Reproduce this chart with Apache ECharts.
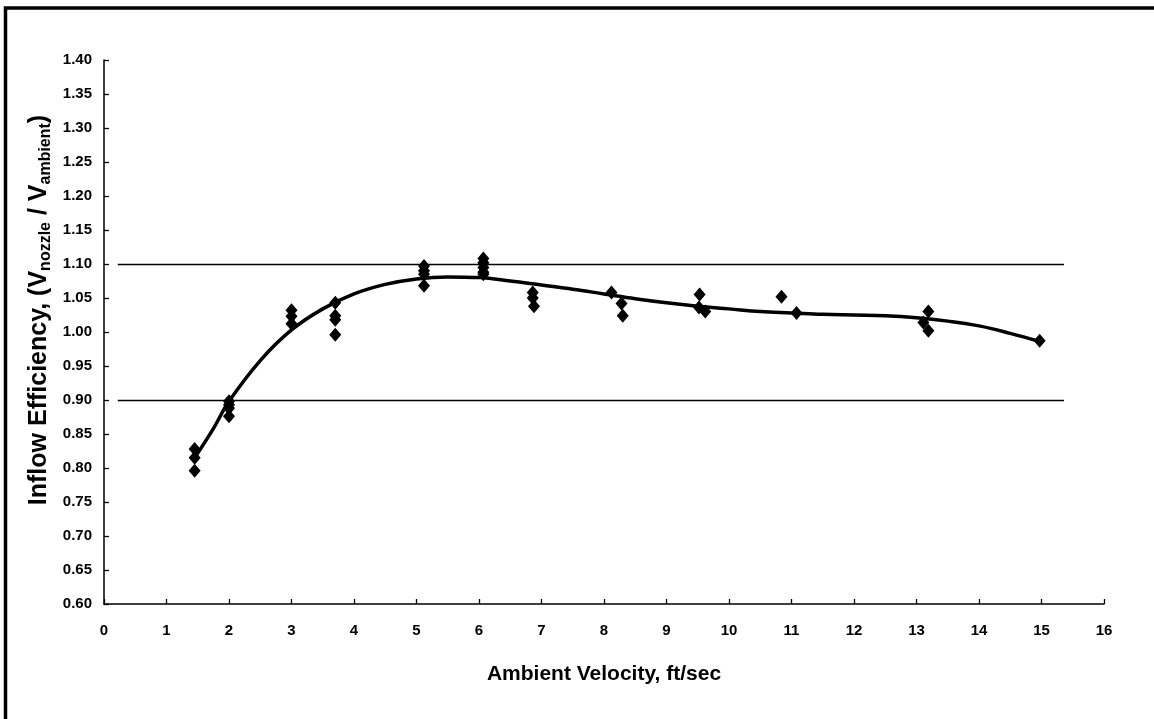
<!DOCTYPE html>
<html>
<head>
<meta charset="utf-8">
<style>
  html, body { margin: 0; padding: 0; background: #fff; }
  #chart { width: 1154px; height: 719px; }
</style>
<script src="https://cdn.jsdelivr.net/npm/echarts@6/dist/echarts.min.js"></script>
</head>
<body>
<div id="chart"></div>
<script>
// Measured inflow efficiency samples: ambient velocity (ft/sec) and ratio
const sampleVelocity = [
  1.45, 1.45, 1.45,
  2.0, 2.0, 2.0, 2.0,
  3.0, 3.0, 3.0,
  3.7, 3.7, 3.7, 3.7,
  5.12, 5.12, 5.12, 5.12,
  6.07, 6.07, 6.07, 6.07, 6.07,
  6.86, 6.86, 6.88,
  8.12, 8.28, 8.30,
  9.53, 9.52, 9.62,
  10.84, 11.08,
  13.19, 13.11, 13.19,
  14.97
];
const sampleEfficiency = [
  0.828, 0.815, 0.796,
  0.898, 0.893, 0.888, 0.876,
  1.032, 1.023, 1.012,
  1.043, 1.024, 1.018, 0.996,
  1.097, 1.090, 1.085, 1.068,
  1.108, 1.102, 1.095, 1.088, 1.085,
  1.058, 1.050, 1.038,
  1.058, 1.042, 1.024,
  1.055, 1.036, 1.030,
  1.052, 1.028,
  1.030, 1.014, 1.002,
  0.987
];

// Fitted trend curve
const fitVelocity = [1.45, 1.75, 2.0, 2.5, 3.0, 3.5, 4.0, 4.5, 5.0, 5.5, 6.0, 6.5, 7.0, 7.5, 8.0, 8.5, 9.0, 9.5, 10.0, 10.5, 11.0, 11.5, 12.0, 12.5, 13.0, 13.5, 14.0, 14.5, 14.97];
const fitEfficiency = [0.815, 0.858, 0.898, 0.958, 1.003, 1.034, 1.056, 1.070, 1.078, 1.081, 1.080, 1.075, 1.069, 1.063, 1.056, 1.049, 1.043, 1.038, 1.034, 1.030, 1.028, 1.026, 1.025, 1.024, 1.021, 1.016, 1.009, 0.998, 0.986];

// Acceptance band limits and their horizontal extent
const bandLevels = [1.10, 0.90];
const bandSpan = [0.22, 15.36];

const chart = echarts.init(document.getElementById('chart'));
const font = 'Liberation Sans, Arial, sans-serif';

const scatterData = sampleVelocity.map((v, i) => [v, sampleEfficiency[i]]);
const fitData = fitVelocity.map((v, i) => [v, fitEfficiency[i]]);

chart.setOption({
  animation: false,
  backgroundColor: '#fff',
  textStyle: { fontFamily: font },
  graphic: [
    {
      // outer frame
      type: 'rect',
      shape: { x: 5.5, y: 8, width: 1200, height: 800 },
      style: { fill: 'none', stroke: '#000', lineWidth: 3.5 },
      silent: true
    },
    {
      // vertical axis title with subscripts
      type: 'text',
      x: 39, y: 310,
      rotation: Math.PI / 2,
      silent: true,
      style: {
        text: '{a|Inflow Efficiency, (V}{s|nozzle}{a| / V}{s|ambient}{a|)}',
        align: 'center',
        verticalAlign: 'middle',
        rich: {
          a: { fontFamily: font, fontSize: 25, fontWeight: 'bold', fill: '#000', lineHeight: 30 },
          s: { fontFamily: font, fontSize: 16, fontWeight: 'bold', fill: '#000', lineHeight: 16, verticalAlign: 'bottom' }
        }
      }
    }
  ],
  grid: { left: 104, right: 50, top: 60, bottom: 115 },
  xAxis: {
    type: 'value', min: 0, max: 16, interval: 1,
    name: 'Ambient Velocity, ft/sec',
    nameLocation: 'middle', nameGap: 60,
    nameTextStyle: { fontFamily: font, fontSize: 21, fontWeight: 'bold', color: '#000' },
    axisLine: { lineStyle: { color: '#000', width: 1.5 } },
    axisTick: { inside: true, length: 5, lineStyle: { color: '#000', width: 1.3 } },
    axisLabel: { margin: 19, fontFamily: font, fontSize: 15, fontWeight: 'bold', color: '#000' },
    splitLine: { show: false }
  },
  yAxis: {
    type: 'value', min: 0.6, max: 1.4, interval: 0.05,
    axisLine: { show: true, lineStyle: { color: '#000', width: 1.5 } },
    axisTick: { show: true, inside: true, length: 5, lineStyle: { color: '#000', width: 1.3 } },
    axisLabel: {
      margin: 12, fontFamily: font, fontSize: 15, fontWeight: 'bold', color: '#000',
      formatter: v => v.toFixed(2)
    },
    splitLine: { show: false }
  },
  series: [
    {
      type: 'line',
      data: fitData,
      smooth: 0.4,
      showSymbol: false,
      lineStyle: { color: '#000', width: 3.5 },
      z: 2,
      markLine: {
        silent: true,
        symbol: ['none', 'none'],
        label: { show: false },
        lineStyle: { color: '#000', width: 1.3, type: 'solid' },
        data: bandLevels.map(level => [
          { coord: [bandSpan[0], level] },
          { coord: [bandSpan[1], level] }
        ])
      }
    },
    {
      type: 'scatter',
      data: scatterData,
      symbol: 'diamond',
      symbolSize: [12, 14],
      itemStyle: { color: '#000', opacity: 1 },
      z: 3
    }
  ]
});
</script>
</body>
</html>
